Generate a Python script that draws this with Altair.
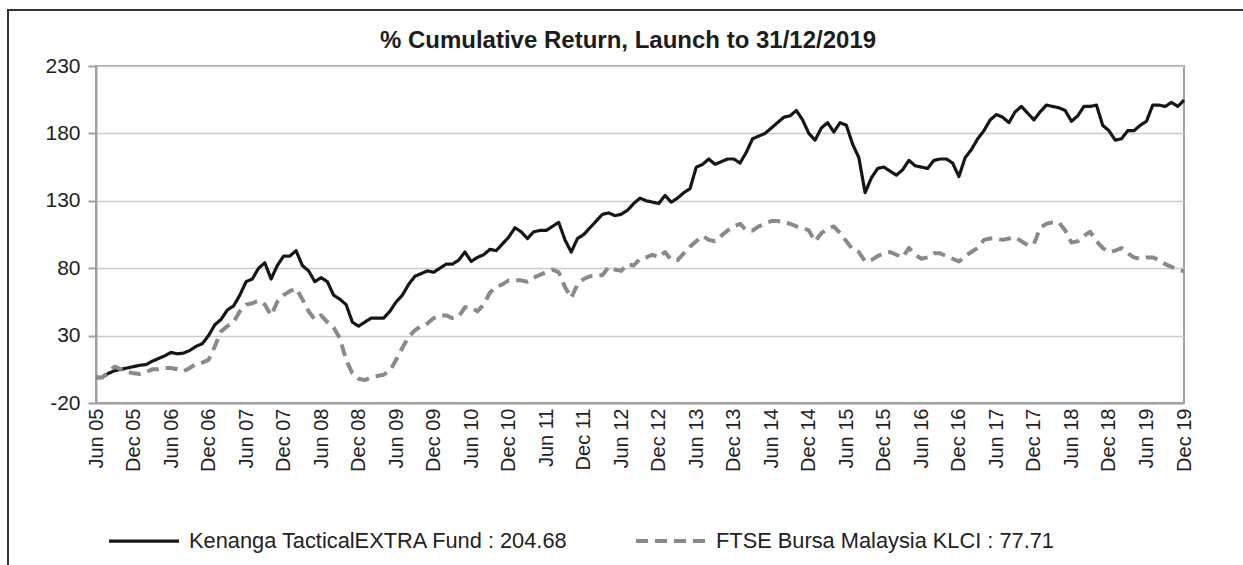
import json
import altair as alt
import pandas as pd

title_text = "% Cumulative Return, Launch to 31/12/2019"
series_names = ["Kenanga TacticalEXTRA Fund : 204.68", "FTSE Bursa Malaysia KLCI : 77.71"]
tick_labels = ["Jun 05", "Dec 05", "Jun 06", "Dec 06", "Jun 07", "Dec 07", "Jun 08", "Dec 08",
               "Jun 09", "Dec 09", "Jun 10", "Dec 10", "Jun 11", "Dec 11", "Jun 12", "Dec 12",
               "Jun 13", "Dec 13", "Jun 14", "Dec 14", "Jun 15", "Dec 15", "Jun 16", "Dec 16",
               "Jun 17", "Dec 17", "Jun 18", "Dec 18", "Jun 19", "Dec 19"]
y_ticks = [-20, 30, 80, 130, 180, 230]

fund = [-1, -1, 2, 4, 5, 6, 7, 8, 8.5, 11, 13, 15, 17.5, 16.5, 17, 19, 22, 24, 30, 38, 42, 49, 52, 60,
        70, 72, 80, 84, 72, 82, 89, 89, 93, 82, 78, 70, 73, 70, 60, 57, 53, 40, 37, 40,
        43, 43, 43, 48, 55, 60, 68, 74, 76, 78, 77, 80, 83, 83, 86, 92, 85, 88, 90, 94, 93, 98,
        103, 110, 107, 102, 107, 108, 108, 111, 114, 101, 92, 102, 105, 110, 115, 120, 121, 119,
        120, 123, 128, 132,
        130, 129, 128, 134, 129, 132, 136, 139, 155, 157, 161, 157, 159, 161, 161, 158, 166, 176,
        178, 180, 184, 188, 192, 193, 197, 190, 180, 175, 184, 188, 181, 188, 186, 172, 162, 136,
        147, 154, 155, 152, 149, 153, 160, 156,
        155, 154, 160, 161, 161, 158, 148, 162, 168, 176, 182, 190, 194, 192, 188, 196, 200, 195,
        190, 196, 201, 200, 199, 197, 189, 193, 200, 200, 201, 186, 182, 175, 176, 182, 182, 186,
        189, 201, 201, 200, 203, 200, 204.68]

klci = [-1.5, -1, 3, 7, 5, 3, 2, 1.5, 3, 5, 5, 6, 6, 5, 3.5, 6, 9, 10, 12, 22, 33, 37, 40, 48,
        53, 54, 56, 53, 45, 55, 60, 63, 65, 57, 48, 42, 45, 40, 36, 28, 12, 2, -2, -3,
        -1, 0, 1, 4, 12, 21, 29, 34, 37, 39, 43, 45, 45, 43, 44, 51, 51, 48, 53, 62, 66, 68,
        71, 71, 71, 70, 73, 75, 77, 79, 77, 66, 58, 68, 72, 74, 74, 75, 81, 79, 78, 83, 82, 87,
        88, 90, 88, 92, 86, 86, 91, 96, 100, 104, 101, 100, 104, 108, 111, 113, 108, 108, 111,
        113, 115, 115, 114, 113, 111, 110, 108, 100, 106, 109, 111, 106, 100, 94, 92, 85, 86, 89,
        91, 92, 90, 88, 95, 90,
        87, 88, 91, 91, 89, 87, 85, 89, 92, 95, 101, 102, 102, 101, 102, 103, 100, 97, 98, 110,
        113, 114, 114, 108, 99, 100, 104, 107, 100, 95, 92, 93, 95, 91, 88, 87, 88, 88, 86, 83,
        81, 79, 77.71]

n = len(fund)
df = pd.DataFrame({
    "month": list(range(n)) + list(range(len(klci))),
    "value": fund + klci,
    "series": [series_names[0]] * n + [series_names[1]] * len(klci),
})

W, H = 1088, 337
PL, PT = 96, 66
FONT = "Liberation Sans"

label_expr = json.dumps(tick_labels) + "[round(datum.value / 6)]"

lines = alt.Chart(df).mark_line(strokeJoin="round", strokeCap="butt").encode(
    x=alt.X("month:Q",
            scale=alt.Scale(domain=[0, n - 1], nice=False, zero=False),
            axis=alt.Axis(values=list(range(0, n, 6)), labelExpr=label_expr, labelAngle=270,
                          labelAlign="right", labelBaseline="middle", labelPadding=5,
                          labelFontSize=20, ticks=False, grid=False, title=None,
                          labelOverlap=False, labelBound=False, labelFlush=False)),
    y=alt.Y("value:Q",
            scale=alt.Scale(domain=[-20, 230], nice=False, zero=False),
            axis=alt.Axis(values=y_ticks, tickSize=8, labelPadding=8, labelFontSize=21,
                          labelExpr="'' + datum.value",
                          title=None, grid=True)),
    color=alt.Color("series:N", sort=series_names,
                    scale=alt.Scale(domain=series_names, range=["#161616", "#8a8a8a"]),
                    legend=alt.Legend(title=None)),
    strokeDash=alt.StrokeDash("series:N", sort=series_names,
                              scale=alt.Scale(domain=series_names, range=[[1, 0], [12, 7]]),
                              legend=alt.Legend(title=None)),
    strokeWidth=alt.StrokeWidth("series:N",
                                scale=alt.Scale(domain=series_names, range=[3.2, 4]),
                                legend=None),
    order="month:Q",
)

frame = alt.Chart(alt.Data(values=[{}])).mark_rect(
    fillOpacity=0, stroke="#333333", strokeWidth=2
).encode(
    x=alt.value(8 - PL), x2=alt.value(1262 - PL),
    y=alt.value(10 - PT), y2=alt.value(585 - PT),
)

title_layer = alt.Chart(alt.Data(values=[{}])).mark_text(
    text=title_text, font=FONT, fontSize=24, fontWeight="bold",
    align="center", baseline="alphabetic", color="#1c1c1c"
).encode(x=alt.value(628 - PL), y=alt.value(48 - PT))

chart = alt.layer(frame, lines, title_layer).properties(
    width=W, height=H,
    autosize=alt.AutoSizeParams(type="none"),
    padding={"left": PL, "top": PT, "right": 1243 - PL - W, "bottom": 565 - PT - H},
    background="white",
).configure_view(
    stroke="#a0a0a0", strokeWidth=2
).configure_axis(
    labelFont=FONT, labelColor="#222222",
    domainColor="#a0a0a0", domainWidth=2,
    tickColor="#a0a0a0", tickWidth=2,
    gridColor="#cccccc", gridWidth=1.5,
).configure_legend(
    orient="none", legendX=11, legendY=438, direction="horizontal",
    symbolType="stroke", symbolSize=4900, symbolStrokeWidth=4,
    labelFont=FONT, labelFontSize=21.8, labelColor="#222222", labelLimit=0,
    labelOffset=8, columnPadding=59, padding=0,
)

chart.save("out.html", embed_options={"renderer": "svg", "actions": False})
